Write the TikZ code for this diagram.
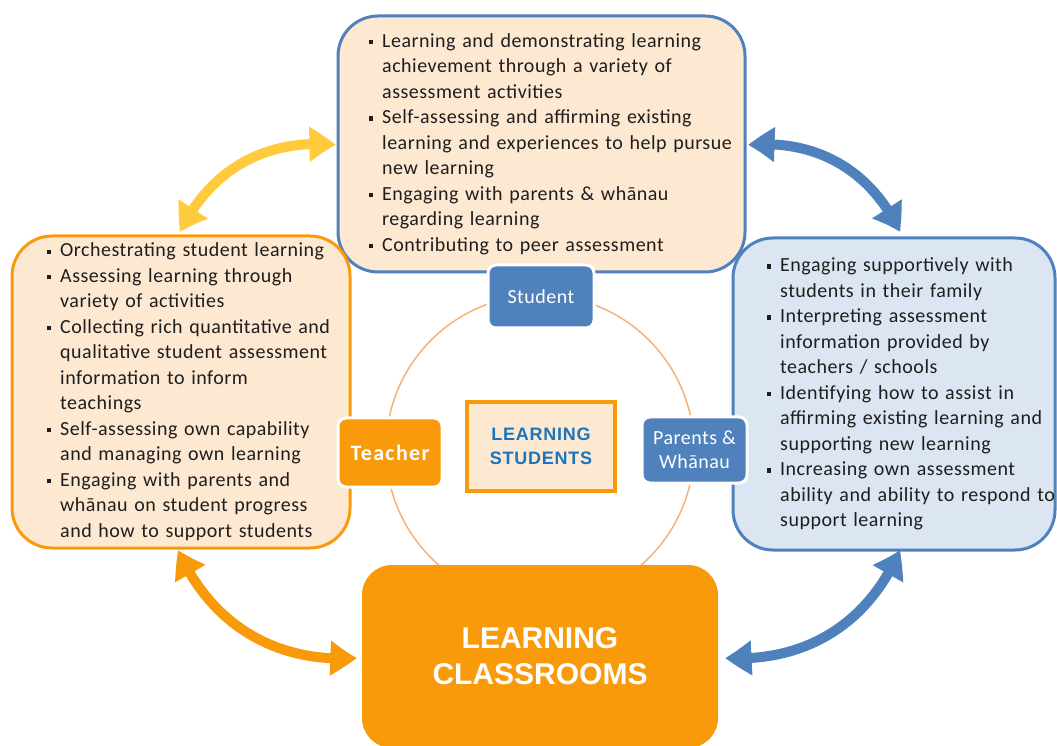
\documentclass[tikz,border=0pt]{standalone}
\usepackage{fontspec}
\setmainfont{Carlito}[LetterSpace=2.5]
\newfontfamily\arialf{Liberation Sans}
\newfontfamily\arialsp{Liberation Sans}[LetterSpace=4]
\newfontfamily\cbold{Carlito}[LetterSpace=6]
\usetikzlibrary{arrows.meta,bending}
\definecolor{org}{HTML}{F99A0A}
\definecolor{peach}{HTML}{FDE9D1}
\definecolor{blu}{HTML}{4F81BD}
\definecolor{lblu}{HTML}{DCE6F2}
\definecolor{yel}{HTML}{FFCA3C}
\definecolor{circ}{HTML}{F7B27A}
\definecolor{txtblue}{HTML}{1A75BE}
\definecolor{txt}{HTML}{1E1E1E}
\newcommand\sqb{\rule[0.32ex]{4.2pt}{4.2pt}}
\begin{document}
\begin{tikzpicture}[x=1pt,y=1pt,
  bigbox/.style={line width=3pt, rounded corners=40pt, inner xsep=0pt, inner ysep=0pt, align=left, text=txt, font=\fontsize{20}{25.5}\selectfont},
  lab/.style={draw=white, line width=3pt, rounded corners=8pt, text=white, align=center, inner sep=0pt},
  dbl/.style={line width=10pt, {Triangle[length=27pt,width=33pt,bend]}-{Triangle[length=27pt,width=33pt,bend]}}
]
\useasboundingbox (0,0) rectangle (1057,745);
\fill[white] (0,0) rectangle (1057,745);

% ring
\node[circle, draw=circ, line width=1.5pt, minimum size=308pt, inner sep=0pt] (ring) at (540,296) {};

% big boxes
\node[bigbox, draw=blu, fill=peach, minimum width=407pt, minimum height=256pt, text width=345pt] (sbox) at (541.5,601) {%
\begin{tabular}{@{}l@{\hspace{9pt}}l@{}}
\sqb & Learning and demonstrating learning\\
 & achievement through a variety of\\
 & assessment activities\\
\sqb & Self-assessing and affirming existing\\
 & learning and experiences to help pursue\\
 & new learning\\
\sqb & Engaging with parents \& whānau\\
 & regarding learning\\
\sqb & Contributing to peer assessment
\end{tabular}};

\node[bigbox, draw=org, fill=peach, minimum width=338pt, minimum height=312pt, text width=268pt] (tbox) at (181,353) {%
\begin{tabular}{@{}l@{\hspace{9pt}}l@{}}
\sqb & Orchestrating student learning\\
\sqb & Assessing learning through\\
 & variety of activities\\
\sqb & Collecting rich quantitative and\\
 & qualitative student assessment\\
 & information to inform\\
 & teachings\\
\sqb & Self-assessing own capability\\
 & and managing own learning\\
\sqb & Engaging with parents and\\
 & whānau on student progress\\
 & and how to support students
\end{tabular}};

\node[bigbox, draw=blu, fill=lblu, minimum width=322pt, minimum height=312pt, text width=254pt] (pbox) at (894,351) {%
\begin{tabular}{@{}l@{\hspace{9pt}}l@{}}
\sqb & Engaging supportively with\\
 & students in their family\\
\sqb & Interpreting assessment\\
 & information provided by\\
 & teachers / schools\\
\sqb & Identifying how to assist in\\
 & affirming existing learning and\\
 & supporting new learning\\
\sqb & Increasing own assessment\\
 & ability and ability to respond to\\
 & support learning
\end{tabular}};

% labels on ring
\node[lab, fill=blu, minimum width=106pt, minimum height=63pt, font=\fontsize{20}{24}\selectfont] (slab) at (541,448.5) {Student};
\node[lab, fill=org, minimum width=104pt, minimum height=69pt, font=\cbold\bfseries\fontsize{22}{26}\selectfont] (tlab) at (390,292.5) {Teacher};
\node[lab, fill=blu, minimum width=105pt, minimum height=66pt, font=\fontsize{20}{24}\selectfont] (plab) at (694.5,295) {Parents \&\\Whānau};

% centre
\node[draw=org, fill=peach, line width=3.5pt, minimum width=148pt, minimum height=89pt, text=txtblue, align=center, font=\arialsp\bfseries\fontsize{18}{24}\selectfont] (ls) at (541,298.5) {LEARNING\\STUDENTS};

% classroom
\node[fill=org, rounded corners=30pt, minimum width=356pt, minimum height=183pt, text=white, align=center, font=\arialf\bfseries\fontsize{30}{36}\selectfont] (cls) at (540,88.5) {LEARNING\\CLASSROOMS};

% arrows
\coordinate (ya) at (180,513);
\coordinate (yb) at (336,600);
\coordinate (ba) at (748,600);
\coordinate (bb) at (900,513);
\coordinate (oa) at (178,195);
\coordinate (ob) at (357,87);
\coordinate (ca) at (725,87);
\coordinate (cb) at (900,195);
\draw[dbl, yel] (ya) to[bend left=35] (yb);
\draw[dbl, blu] (ba) to[bend left=35] (bb);
\draw[dbl, org] (oa) to[bend right=35] (ob);
\draw[dbl, blu] (ca) to[bend right=35] (cb);
\end{tikzpicture}
\end{document}
